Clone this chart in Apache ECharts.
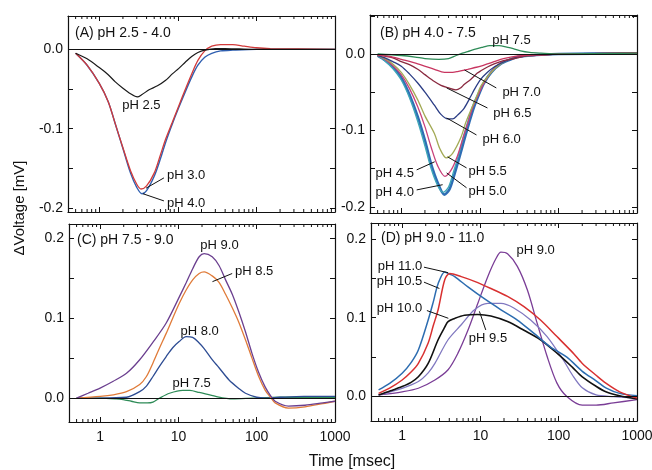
<!DOCTYPE html>
<html>
<head>
<meta charset="utf-8">
<script src="https://cdn.jsdelivr.net/npm/echarts@6/dist/echarts.min.js"></script>
<style>
  html, body { margin: 0; padding: 0; background: #fff; }
  #main { width: 652px; height: 470px; }
</style>
</head>
<body>
<div id="main"></div>
<script>
// ---- data: [time msec, dV mV] ----
// (A) pH 2.5 - 4.0
var a_pH25 = [[0.5,-0.005],[0.7,-0.012],[1,-0.023],[1.3,-0.032],[1.6,-0.041],[2,-0.049],[2.5,-0.056],[3.05,-0.06],[3.5,-0.057],[4.3,-0.051],[5.5,-0.046],[7,-0.039],[8.5,-0.031],[10.3,-0.024],[12.5,-0.016],[15,-0.009],[18,-0.004],[22,-0.001],[30,0.001],[40,0.001],[60,0.0005],[100,0],[1000,0]];
var a_pH30 = [[0.5,-0.005],[0.7,-0.02],[1,-0.043],[1.3,-0.066],[1.6,-0.094],[2,-0.124],[2.5,-0.153],[3,-0.17],[3.4,-0.176],[4,-0.172],[5,-0.156],[6,-0.133],[7,-0.113],[8.5,-0.092],[10.3,-0.071],[12.5,-0.05],[15,-0.031],[18,-0.014],[22,-0.002],[27,0.004],[35,0.006],[50,0.006],[70,0.004],[100,0.002],[150,0.001],[1000,0]];
var a_pH40 = [[0.5,-0.005],[0.7,-0.02],[1,-0.043],[1.3,-0.066],[1.6,-0.094],[2,-0.125],[2.5,-0.156],[3,-0.174],[3.5,-0.182],[4,-0.178],[5,-0.16],[6,-0.138],[7,-0.117],[8.5,-0.094],[10.3,-0.073],[12.5,-0.053],[15,-0.035],[18,-0.02],[22,-0.01],[27,-0.005],[35,-0.002],[50,-0.001],[100,0],[1000,0]];

// (B) pH 4.0 - 7.5
var b_pH40 = [[0.5,-0.002],[0.62,-0.008],[0.78,-0.017],[1,-0.031],[1.27,-0.053],[1.62,-0.082],[2,-0.113],[2.4,-0.144],[2.9,-0.168],[3.54,-0.184],[4.1,-0.177],[4.73,-0.158],[5.5,-0.135],[6.3,-0.113],[7.3,-0.09],[8.45,-0.069],[10,-0.05],[11.3,-0.038],[14,-0.024],[18.4,-0.013],[25,-0.007],[30,-0.004],[45,-0.002],[60,-0.001],[100,0],[1000,0.001]];
var b_pH45 = [[0.5,-0.002],[0.62,-0.009],[0.78,-0.019],[1,-0.034],[1.27,-0.057],[1.62,-0.088],[2,-0.12],[2.4,-0.15],[2.9,-0.172],[3.4,-0.181],[4,-0.174],[4.6,-0.155],[5.4,-0.131],[6.2,-0.108],[7.2,-0.085],[8.3,-0.065],[10,-0.047],[11.3,-0.036],[14,-0.023],[18.4,-0.012],[25,-0.006],[30,-0.004],[45,-0.002],[100,0],[1000,0.001]];
var b_pH50 = [[0.5,-0.002],[0.62,-0.007],[0.78,-0.015],[1,-0.027],[1.27,-0.045],[1.62,-0.069],[2,-0.095],[2.4,-0.122],[2.9,-0.146],[3.6,-0.16],[4.3,-0.152],[5.2,-0.133],[6.1,-0.11],[7,-0.091],[8.1,-0.07],[9.3,-0.056],[11,-0.04],[13.8,-0.024],[17,-0.014],[22,-0.008],[30,-0.004],[50,-0.002],[100,0],[1000,0.001]];
var b_pH55 = [[0.5,-0.002],[0.62,-0.006],[0.78,-0.013],[1,-0.024],[1.27,-0.04],[1.62,-0.06],[2,-0.081],[2.64,-0.104],[3.1,-0.124],[3.75,-0.136],[4.5,-0.13],[5.75,-0.109],[6.6,-0.09],[7.7,-0.073],[9,-0.057],[10.3,-0.042],[12.5,-0.03],[15.2,-0.02],[19,-0.012],[25,-0.006],[35,-0.003],[60,-0.001],[100,0],[1000,0.001]];
var b_pH60 = [[0.5,-0.002],[0.62,-0.005],[0.78,-0.01],[1,-0.016],[1.27,-0.026],[1.62,-0.038],[2,-0.05],[2.64,-0.067],[3.2,-0.079],[3.9,-0.085],[4.5,-0.085],[5.2,-0.08],[6.3,-0.071],[7.7,-0.055],[8.45,-0.047],[10.3,-0.033],[12.5,-0.024],[15.2,-0.017],[19.5,-0.011],[24,-0.007],[30,-0.004],[45,-0.002],[100,0],[1000,0.001]];
var b_pH65 = [[0.5,-0.001],[0.78,-0.005],[1,-0.01],[1.27,-0.014],[1.62,-0.02],[2,-0.027],[2.64,-0.036],[3.2,-0.041],[3.9,-0.044],[4.97,-0.047],[5.75,-0.044],[6.3,-0.04],[7.7,-0.033],[9.3,-0.025],[10.3,-0.022],[12.5,-0.017],[15.2,-0.013],[19.5,-0.009],[24.7,-0.007],[30,-0.005],[40,-0.002],[60,-0.001],[100,0],[1000,0.001]];
var b_pH70 = [[0.5,-0.001],[0.78,-0.004],[1,-0.007],[1.62,-0.013],[2.64,-0.02],[3.54,-0.024],[4.5,-0.024],[5.2,-0.023],[7,-0.02],[8.45,-0.018],[10.3,-0.016],[12.5,-0.013],[15.2,-0.01],[20,-0.006],[24.7,-0.004],[36,-0.002],[60,-0.001],[100,0],[1000,0.001]];
var b_pH75 = [[0.5,0],[1,-0.002],[1.5,-0.004],[2,-0.006],[3,-0.007],[4,-0.006],[5,-0.002],[6,0.001],[7,0.003],[8.5,0.006],[11,0.009],[13.3,0.011],[17.6,0.011],[22,0.009],[26.6,0.007],[33,0.004],[43,0.002],[60,0.001],[100,0],[1000,0.001]];

// (C) pH 7.5 - 9.0
var c_pH90 = [[0.5,0],[0.7,0.006],[1,0.0125],[1.47,0.021],[2.17,0.031],[3.2,0.048],[4.73,0.07],[6.98,0.094],[10.3,0.127],[12.5,0.144],[15.2,0.162],[18.4,0.177],[21.3,0.181],[27,0.177],[33,0.166],[40,0.148],[48.7,0.13],[59,0.108],[71.8,0.083],[87,0.056],[106,0.032],[128,0.014],[150,0.003],[172,-0.004],[254,-0.01],[414,-0.009],[700,-0.006],[1000,-0.004]];
var c_pH85 = [[0.5,0],[1,0.002],[1.47,0.004],[2.17,0.008],[3.2,0.017],[3.9,0.027],[4.73,0.044],[5.75,0.063],[6.98,0.081],[8.45,0.1],[10.3,0.119],[12.5,0.135],[15.2,0.148],[18.4,0.156],[21.3,0.158],[27,0.153],[33,0.145],[40,0.13],[48.7,0.113],[59,0.095],[71.8,0.073],[87,0.05],[106,0.027],[128,0.01],[150,0.001],[172,-0.006],[254,-0.0125],[414,-0.011],[700,-0.007],[1000,-0.004]];
var c_pH80 = [[0.5,0],[1,0],[2.17,0.001],[3.2,0.008],[3.9,0.015],[4.73,0.027],[5.75,0.04],[6.98,0.052],[8.45,0.063],[10.3,0.071],[12.5,0.077],[15.2,0.076],[18.4,0.069],[21.3,0.062],[27,0.048],[33,0.038],[44,0.023],[59,0.012],[71.8,0.006],[100,0.001],[128,0],[200,0.001],[400,0.002],[1000,0.002]];
var c_pH75 = [[0.5,0],[1,0],[1.6,-0.001],[1.97,-0.002],[2.5,-0.004],[3.2,-0.006],[4,-0.006],[4.73,-0.005],[5.75,0],[7.7,0.006],[11.3,0.0096],[14,0.0095],[18.4,0.007],[30,0.002],[49,-0.001],[90,0],[200,0.001],[1000,0.001]];

// (D) pH 9.0 - 11.0
var d_pH90 = [[0.5,0.002],[1,0.006],[1.61,0.0105],[2.62,0.021],[3.86,0.034],[5.16,0.055],[6.92,0.084],[9.25,0.118],[12.4,0.152],[15.8,0.175],[18.3,0.183],[22.2,0.181],[29.6,0.165],[39.8,0.135],[53,0.093],[71,0.051],[95,0.017],[127,0],[200,-0.011],[300,-0.011],[500,-0.008],[1000,-0.004]];
var d_pH95 = [[0.5,0.002],[1,0.0105],[1.61,0.019],[2.15,0.03],[2.62,0.042],[3.86,0.072],[5.69,0.091],[8.4,0.11],[12.4,0.118],[18.3,0.118],[27,0.112],[43.8,0.097],[71,0.076],[115,0.046],[150,0.027],[200,0.011],[300,0.002],[500,0],[1000,-0.002]];
var d_pH100 = [[0.5,0.002],[0.7,0.007],[1,0.0127],[1.3,0.018],[1.61,0.025],[2.15,0.042],[2.88,0.072],[3.5,0.088],[3.86,0.095],[4.69,0.099],[6.27,0.103],[9.25,0.104],[13.6,0.102],[22.2,0.095],[36,0.084],[58.5,0.072],[95,0.055],[150,0.037],[200,0.025],[300,0.013],[400,0.006],[600,0.001],[1000,-0.003]];
var d_pH105 = [[0.5,0.004],[0.7,0.011],[1,0.021],[1.3,0.031],[1.61,0.042],[2.15,0.068],[2.5,0.09],[2.88,0.11],[3.5,0.148],[4.05,0.156],[5.69,0.152],[8.4,0.146],[13.6,0.137],[22.2,0.127],[36,0.114],[58.5,0.097],[95,0.076],[150,0.056],[200,0.042],[300,0.027],[400,0.017],[600,0.006],[1000,-0.002]];
var d_pH110 = [[0.5,0.0084],[0.7,0.017],[1,0.0295],[1.3,0.043],[1.61,0.059],[2.15,0.097],[2.5,0.12],[2.88,0.143],[3.5,0.158],[4.1,0.155],[4.69,0.152],[6.92,0.139],[11.2,0.124],[18.3,0.11],[29.6,0.097],[48.3,0.08],[78,0.063],[127,0.05],[200,0.032],[300,0.02],[400,0.011],[600,0.004],[1000,0.001]];

// minor tick positions on the time axis
var minorTicks = [0.5,0.6,0.7,0.8,0.9,2,3,4,5,6,7,8,9,20,30,40,50,60,70,80,90,200,300,400,500,600,700,800,900];

// text labels [text, time, dV, side] and leader lines [[t,v],[t,v]]
var a_notes = [['pH 2.5',1.9,-0.071,'right'],['pH 3.0',7.05,-0.159,'right'],['pH 4.0',7.05,-0.194,'right']];
var a_leads = [[[3.94,-0.175],[6.65,-0.162]],[[3.6,-0.182],[6.65,-0.191]]];
var b_notes = [['pH 7.5',14.0,0.0183,'right'],['pH 7.0',18.8,-0.0497,'right'],['pH 6.5',14.4,-0.0771,'right'],['pH 6.0',10.5,-0.1124,'right'],['pH 5.5',6.97,-0.154,'right'],['pH 5.0',6.97,-0.18,'right'],['pH 4.5',1.49,-0.1556,'left'],['pH 4.0',1.49,-0.1817,'left']];
var b_leads = [[[6.38,-0.0209],[16.2,-0.0444]],[[3.78,-0.0444],[12.5,-0.0706]],[[3.78,-0.0837],[9.06,-0.1059]],[[3.89,-0.1346],[6.77,-0.149]],[[3.78,-0.1556],[6.77,-0.175]],[[1.57,-0.1516],[2.66,-0.141]],[[1.57,-0.1778],[3.36,-0.171]]];
var c_notes = [['pH 9.0',18.5,0.1916,'right'],['pH 8.5',51.2,0.158,'right'],['pH 8.0',10.3,0.0833,'right'],['pH 7.5',8.16,0.0188,'right']];
var c_leads = [[[27.2,0.1458],[48.6,0.156]]];
var d_notes = [['pH 9.0',28,0.1848,'right'],['pH 11.0',1.86,0.1646,'left'],['pH 10.5',1.86,0.1456,'left'],['pH 10.0',1.86,0.112,'left'],['pH 9.5',6.9,0.0739,'right']];
var d_leads = [[[1.9,0.164],[3.86,0.157]],[[1.9,0.145],[2.99,0.137]],[[2.07,0.109],[3.89,0.0992]],[[11.7,0.0844],[9.7,0.108]]];

var FONT = 'Liberation Sans, Arial, Helvetica, sans-serif';
var INK = '#111';

var panels = [
  { title: '(A) pH 2.5 - 4.0', box: [68, 16, 267, 196], tpos: [75, 26], yr: [-0.205, 0.042], xlab: false,
    lines: [[a_pH40, '#2f5fb0', 1.4], [a_pH30, '#d23a3a', 1.3], [a_pH25, '#1a1a1a', 1.2]],
    notes: a_notes, leads: a_leads },
  { title: '(B) pH 4.0 - 7.5', box: [370, 15, 267, 198], tpos: [380, 26], yr: [-0.208, 0.051], xlab: false,
    lines: [[b_pH40, '#2e6db4', 2.6], [b_pH45, '#3fa6b8', 1.4], [b_pH50, '#c8407a', 1.3], [b_pH55, '#a3aa55', 1.3],
            [b_pH60, '#2b3d85', 1.3], [b_pH65, '#8a2a40', 1.3], [b_pH70, '#c83560', 1.3], [b_pH75, '#2e8b57', 1.3]],
    notes: b_notes, leads: b_leads },
  { title: '(C) pH 7.5 - 9.0', box: [69, 224, 266, 198], tpos: [77, 233], yr: [-0.03, 0.218], xlab: true,
    lines: [[c_pH75, '#2e8b57', 1.3], [c_pH80, '#2d4c93', 1.3], [c_pH85, '#e07b39', 1.3], [c_pH90, '#6b3f8f', 1.3]],
    notes: c_notes, leads: c_leads },
  { title: '(D) pH 9.0 - 11.0', box: [371, 223, 266, 198], tpos: [381, 231], yr: [-0.031, 0.22], xlab: true,
    lines: [[d_pH90, '#7a3d96', 1.3], [d_pH95, '#8078c0', 1.3], [d_pH100, '#111111', 1.6], [d_pH110, '#2c6cb0', 1.5], [d_pH105, '#d83030', 1.5]],
    notes: d_notes, leads: d_leads }
];

function decadeLabel(v) {
  var l = Math.log10(v);
  return Math.abs(l - Math.round(l)) < 1e-6 ? String(Math.round(v)) : '';
}
function tenthLabel(v) {
  var k = Math.round(v * 10);
  return Math.abs(v * 10 - k) < 1e-6 ? (k / 10).toFixed(1) : '';
}

var option = {
  animation: false,
  backgroundColor: '#fff',
  textStyle: { fontFamily: FONT },
  title: [], grid: [], xAxis: [], yAxis: [], series: [],
  graphic: [
    { type: 'text', x: 20, y: 208, rotation: Math.PI / 2,
      style: { text: 'ΔVoltage [mV]', fontSize: 15, fontFamily: FONT, fill: INK, align: 'center', verticalAlign: 'middle' } },
    { type: 'text', x: 352, y: 462,
      style: { text: 'Time [msec]', fontSize: 16, fontFamily: FONT, fill: INK, align: 'center', verticalAlign: 'middle' } }
  ]
};

var axisLine = { show: true, onZero: false, lineStyle: { color: INK, width: 1.2 } };
var tick = { show: true, inside: true, length: 5, lineStyle: { color: INK, width: 1 } };

panels.forEach(function (p, i) {
  option.title.push({ text: p.title, left: p.tpos[0], top: p.tpos[1], padding: 0,
    textStyle: { fontSize: 14, fontWeight: 'normal', color: INK, fontFamily: FONT } });
  option.grid.push({ left: p.box[0], top: p.box[1], width: p.box[2], height: p.box[3], containLabel: false, outerBoundsMode: 'none' });

  ['bottom', 'top'].forEach(function (pos, k) {
    option.xAxis.push({ type: 'log', logBase: 10, gridIndex: i, position: pos, min: 0.4, max: 1000,
      axisLine: axisLine, axisTick: tick, splitLine: { show: false },
      axisLabel: { show: p.xlab && k === 0, formatter: decadeLabel, fontSize: 14, color: INK, margin: 8, fontFamily: FONT } });
  });
  ['left', 'right'].forEach(function (pos, k) {
    option.yAxis.push({ type: 'value', gridIndex: i, position: pos, min: p.yr[0], max: p.yr[1],
      minInterval: 0.05, maxInterval: 0.05, splitNumber: 5,
      axisLine: axisLine, axisTick: tick, splitLine: { show: false },
      axisLabel: { show: k === 0, formatter: tenthLabel, fontSize: 14, color: INK, margin: 5, fontFamily: FONT,
        showMinLabel: false, showMaxLabel: false } });
  });

  var xi = i * 2, yi = i * 2;

  // minor ticks of the log axis, top and bottom
  option.series.push({
    type: 'custom', xAxisIndex: xi, yAxisIndex: yi, silent: true, z: 1,
    data: minorTicks.map(function (t) { return [t, 0]; }),
    renderItem: function (params, api) {
      var x = api.coord([api.value(0), 0])[0];
      var cs = params.coordSys;
      var b = cs.y + cs.height;
      return { type: 'group', children: [
        { type: 'line', shape: { x1: x, y1: b, x2: x, y2: b - 3 }, style: { stroke: INK, lineWidth: 1 } },
        { type: 'line', shape: { x1: x, y1: cs.y, x2: x, y2: cs.y + 3 }, style: { stroke: INK, lineWidth: 1 } }
      ] };
    }
  });

  p.lines.forEach(function (l, j) {
    var s = { type: 'line', xAxisIndex: xi, yAxisIndex: yi, data: l[0], showSymbol: false, symbol: 'none',
      smooth: 0.3, lineStyle: { color: l[1], width: l[2] }, itemStyle: { color: l[1] }, z: 3 };
    if (j === 0) {
      s.markLine = { silent: true, symbol: 'none', label: { show: false },
        lineStyle: { color: INK, width: 1, type: 'solid' }, data: [{ yAxis: 0 }] };
    }
    option.series.push(s);
  });

  option.series.push({
    type: 'lines', coordinateSystem: 'cartesian2d', xAxisIndex: xi, yAxisIndex: yi, silent: true, z: 4,
    lineStyle: { color: INK, width: 1, opacity: 1 },
    data: p.leads.map(function (c) { return { coords: c }; })
  });

  option.series.push({
    type: 'scatter', xAxisIndex: xi, yAxisIndex: yi, symbolSize: 0, silent: true, z: 5,
    itemStyle: { opacity: 1 },
    label: { show: true, formatter: '{b}', fontSize: 13, color: INK, fontFamily: FONT, distance: 1, opacity: 1 },
    data: p.notes.map(function (n) {
      return { name: n[0], value: [n[1], n[2]], label: { position: n[3] } };
    })
  });
});

var myChart = echarts.init(document.getElementById('main'));
myChart.setOption(option);
</script>
</body>
</html>
